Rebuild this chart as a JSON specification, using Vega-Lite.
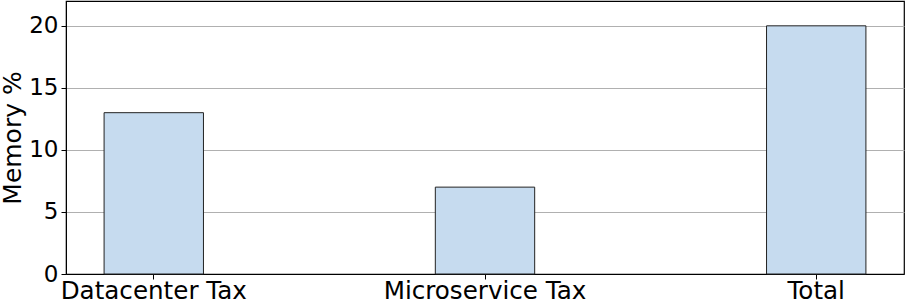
{
  "$schema": "https://vega.github.io/schema/vega-lite/v6.json",
  "width": 838,
  "height": 273,
  "autosize": {"type": "none"},
  "padding": {"left": 66, "top": 1, "right": 1, "bottom": 25},
  "background": "white",
  "config": {
    "font": "DejaVu Sans",
    "view": {"stroke": "black", "strokeWidth": 1.2}
  },
  "data": {
    "values": [
      {"category": "Datacenter Tax", "memory": 13},
      {"category": "Microservice Tax", "memory": 7},
      {"category": "Total", "memory": 20}
    ]
  },
  "mark": {"type": "bar", "fill": "#c6dbef", "stroke": "#222222", "strokeWidth": 1},
  "encoding": {
    "x": {
      "field": "category",
      "type": "nominal",
      "sort": null,
      "scale": {"paddingInner": 0.7, "paddingOuter": 0.115},
      "axis": {
        "title": null,
        "labelAngle": 0,
        "labelFontSize": 24.6,
        "labelLimit": 0,
        "labelColor": "black",
        "labelPadding": 0,
        "tickSize": 5,
        "tickColor": "black",
        "domainColor": "black",
        "labelFont": "DejaVu Sans"
      }
    },
    "y": {
      "field": "memory",
      "type": "quantitative",
      "scale": {"domain": [0, 22], "nice": false},
      "axis": {
        "title": "Memory %",
        "titleFontSize": 25,
        "titleFontWeight": "normal",
        "titleColor": "black",
        "titlePadding": 3,
        "values": [0, 5, 10, 15, 20],
        "labelFontSize": 23,
        "labelColor": "black",
        "labelPadding": 3,
        "tickSize": 5,
        "tickColor": "black",
        "domainColor": "black",
        "grid": true,
        "gridColor": "#b0b0b0",
        "gridWidth": 1
      }
    }
  }
}
